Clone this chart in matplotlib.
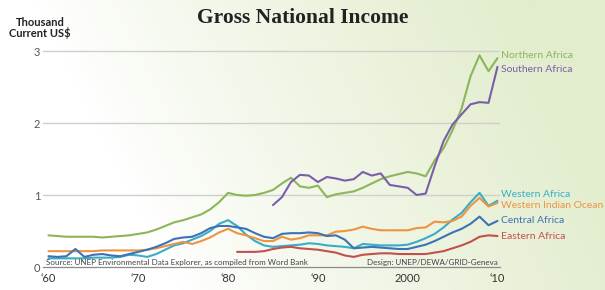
import numpy as np
import matplotlib
matplotlib.use("Agg")
import matplotlib.pyplot as plt

years = list(range(1960, 2011))

northern_africa = [0.44, 0.43, 0.42, 0.42, 0.42, 0.42, 0.41, 0.42, 0.43, 0.44,
                   0.46, 0.48, 0.52, 0.57, 0.62, 0.65, 0.69, 0.73, 0.80, 0.90,
                   1.03, 1.00, 0.99, 1.00, 1.03, 1.07, 1.16, 1.24, 1.12, 1.10,
                   1.13, 0.97, 1.01, 1.03, 1.05, 1.10, 1.16, 1.22, 1.26, 1.29,
                   1.32, 1.30, 1.26, 1.48, 1.65, 1.90, 2.20, 2.65, 2.94, 2.72,
                   2.90]

southern_years = list(range(1985, 2011))
southern_africa = [0.86, 0.97, 1.18, 1.28, 1.27, 1.18, 1.25, 1.23, 1.20, 1.22,
                   1.32, 1.27, 1.30, 1.14, 1.12, 1.10, 1.00, 1.02, 1.40, 1.75,
                   1.98, 2.12, 2.26, 2.29, 2.28, 2.78]

western_africa = [0.12, 0.12, 0.12, 0.12, 0.12, 0.13, 0.13, 0.13, 0.14, 0.17,
                  0.16, 0.14, 0.18, 0.24, 0.30, 0.33, 0.38, 0.43, 0.50, 0.60,
                  0.65, 0.57, 0.45, 0.36, 0.30, 0.28, 0.29, 0.30, 0.31, 0.33,
                  0.32, 0.30, 0.29, 0.28, 0.26, 0.32, 0.31, 0.30, 0.30, 0.30,
                  0.31, 0.35, 0.40, 0.46, 0.55, 0.66, 0.75, 0.90, 1.03, 0.85,
                  0.92]

western_indian_ocean = [0.22, 0.22, 0.22, 0.22, 0.22, 0.22, 0.23, 0.23, 0.23, 0.23,
                        0.23, 0.24, 0.26, 0.29, 0.32, 0.35, 0.32, 0.36, 0.41, 0.48,
                        0.53, 0.47, 0.44, 0.40, 0.36, 0.36, 0.42, 0.38, 0.40, 0.44,
                        0.44, 0.44, 0.49, 0.50, 0.52, 0.56, 0.53, 0.51, 0.51, 0.51,
                        0.51, 0.54, 0.55, 0.63, 0.62, 0.64, 0.70, 0.85, 0.96, 0.84,
                        0.89]

central_africa = [0.15, 0.14, 0.15, 0.25, 0.14, 0.17, 0.18, 0.16, 0.15, 0.18,
                  0.21, 0.24, 0.28, 0.33, 0.39, 0.41, 0.42, 0.47, 0.54, 0.57,
                  0.57, 0.55, 0.53, 0.47, 0.42, 0.40, 0.46, 0.47, 0.47, 0.48,
                  0.47, 0.43, 0.44, 0.38, 0.26, 0.27, 0.28, 0.27, 0.26, 0.25,
                  0.25, 0.28, 0.31, 0.36, 0.42, 0.48, 0.53, 0.60, 0.70, 0.58,
                  0.64]

eastern_years = list(range(1981, 2011))
eastern_africa = [0.21, 0.21, 0.21, 0.22, 0.25, 0.27, 0.28, 0.26, 0.25, 0.24,
                  0.22, 0.20, 0.16, 0.14, 0.17, 0.18, 0.19, 0.19, 0.18, 0.18,
                  0.18, 0.18, 0.20, 0.22, 0.26, 0.30, 0.35, 0.42, 0.44, 0.43]

x_ticks = [1960, 1970, 1980, 1990, 2000, 2010]
x_tick_labels = ["\u201860", "\u201870", "\u201880", "\u201890", "2000", "\u201810"]
y_ticks = [0, 1, 2, 3]

series = [
    ("Northern Africa", years, northern_africa, "#8db55a", 2.94),
    ("Southern Africa", southern_years, southern_africa, "#7a5ea8", 2.74),
    ("Western Africa", years, western_africa, "#3aadc6", 1.01),
    ("Western Indian Ocean", years, western_indian_ocean, "#ef9340", 0.86),
    ("Central Africa", years, central_africa, "#3c72b6", 0.64),
    ("Eastern Africa", eastern_years, eastern_africa, "#c2504c", 0.43),
]

fig = plt.figure(figsize=(6.05, 2.9), dpi=100)

# background gradient: white on the left, pale green on the right
bg = fig.add_axes([0, 0, 1, 1], zorder=0)
gx, gy = np.meshgrid(np.linspace(0, 1, 300), np.linspace(0, 1, 150))
t = np.clip((gx - 0.18) / 0.8 + (gy - 0.5) * 0.3, 0, 1) ** 0.85
green = np.array([226, 237, 205]) / 255
img = (1 - t[..., None]) * np.ones(3) + t[..., None] * green
bg.imshow(img, aspect="auto", extent=[0, 1, 0, 1], origin="lower")
bg.axis("off")

ax = fig.add_axes([43 / 605, 23 / 290, 457 / 605, 227 / 290], zorder=1)
ax.patch.set_alpha(0)
ax.set_xlim(1959.39, 2010.28)
ax.set_ylim(0, 3.153)

for yv in y_ticks[1:]:
    ax.axhline(yv, color="#cfd0cc", lw=1.0, zorder=1)

for name, xs, ys, col, ly in series:
    ax.plot(xs, ys, color=col, lw=1.5, zorder=3, clip_on=False,
            solid_joinstyle="round", solid_capstyle="round")
    ax.text(2010.35, ly, name, color=col, fontsize=7.5, family="Lato",
            va="center", ha="left", clip_on=False)

for s in ["top", "right", "left"]:
    ax.spines[s].set_visible(False)
ax.spines["bottom"].set_color("#8a8a8a")
ax.spines["bottom"].set_linewidth(0.9)

ax.set_xticks(x_ticks)
ax.set_xticklabels(x_tick_labels, family="Lato", fontsize=8, color="#333333")
ax.set_yticks(y_ticks)
ax.set_yticklabels([str(v) for v in y_ticks], family="Lato", fontsize=8, color="#555555")
ax.tick_params(axis="both", length=0)
ax.tick_params(axis="x", pad=4)
ax.tick_params(axis="y", pad=2)

ax.text(1959.7, 0.02, "Source: UNEP Environmental Data Explorer, as compiled from Word Bank",
        fontsize=5.8, family="Lato", color="#444444", va="bottom", ha="left")
ax.text(2010.0, 0.02, "Design: UNEP/DEWA/GRID-Geneva",
        fontsize=5.8, family="Lato", color="#444444", va="bottom", ha="right")

fig.text(303 / 605, 1 - 18 / 290, "Gross National Income", family="Liberation Serif",
         fontweight="bold", fontsize=15.5, color="#222222", ha="center", va="center")
fig.text(40 / 605, 1 - 28 / 290, "Thousand\nCurrent US$", family="Lato",
         fontweight="bold", fontsize=8, color="#222222", ha="center", va="center",
         linespacing=0.95)

fig.savefig("out.png", dpi=100)
